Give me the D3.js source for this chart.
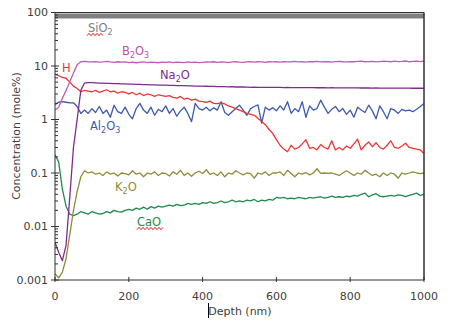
<!DOCTYPE html>
<html><head><meta charset="utf-8">
<script src="https://cdn.jsdelivr.net/npm/d3@7"></script>
<style>body{margin:0;background:#fff}svg{display:block}</style>
</head><body>
<svg id="c" width="451" height="331"></svg>
<script>
const depth = [0,10,20,30,40,50,60,70,80,90,100,110,120,130,140,150,160,170,180,190,200,210,220,230,240,250,260,270,280,290,300,310,320,330,340,350,360,370,380,390,400,410,420,430,440,450,460,470,480,490,500,510,520,530,540,550,560,570,580,590,600,610,620,630,640,650,660,670,680,690,700,710,720,730,740,750,760,770,780,790,800,810,820,830,840,850,860,870,880,890,900,910,920,930,940,950,960,970,980,990,1000];
const depthSiO2 = [0, 250, 500, 750, 1000];
const SiO2 = [86, 86, 86, 86, 86];
const B2O3 = [1.5,1.7,2.5,3.5,5.1,7.4,10.5,12.0,12.2,12.0,
 11.9,12.1,11.8,11.9,12.2,11.9,11.7,12.0,11.8,11.9,
 11.6,11.8,11.5,11.7,11.9,11.6,11.8,11.7,11.5,11.8,
 11.7,11.9,11.6,11.8,11.7,11.6,11.9,11.7,11.8,11.6,
 11.7,11.9,11.8,12.0,11.7,11.9,11.8,11.6,11.9,12.0,
 11.8,11.7,11.9,12.1,11.8,12.0,11.9,11.7,12.0,11.9,
 12.0,11.8,12.1,11.9,12.0,12.2,11.9,12.0,11.8,12.1,
 12.0,12.2,11.9,12.1,12.0,11.8,12.1,12.2,12.0,11.9,
 12.1,12.0,12.2,12.3,12.0,12.1,12.2,11.9,12.1,12.3,
 12.2,12.0,12.3,12.1,12.2,12.4,12.0,12.2,12.3,12.1,12.4];
const Na2O = [0.005,0.0033,0.0023,0.0045,0.035,0.3,1.0,3.5,4.8,4.9,
 4.9,4.85,4.8,4.8,4.75,4.75,4.7,4.7,4.65,4.65,
 4.6,4.6,4.55,4.55,4.5,4.5,4.45,4.45,4.4,4.4,
 4.4,4.35,4.35,4.3,4.3,4.3,4.25,4.25,4.2,4.2,
 4.2,4.18,4.15,4.15,4.12,4.1,4.1,4.08,4.1,4.05,
 4.05,4.05,4.02,4.0,4.02,4.0,3.98,4.0,3.98,3.97,
 3.97,3.98,3.95,3.96,3.95,3.94,3.95,3.93,3.94,3.93,
 3.93,3.92,3.93,3.92,3.91,3.92,3.9,3.91,3.9,3.9,
 3.9,3.89,3.9,3.88,3.89,3.88,3.87,3.88,3.87,3.87,
 3.86,3.87,3.86,3.85,3.86,3.85,3.85,3.84,3.85,3.84,3.84];
const H = [7.0,6.6,6.1,5.9,5.0,4.2,3.8,3.3,3.5,3.4,
 3.3,3.5,3.2,3.4,3.6,3.3,3.4,3.1,3.3,3.2,
 3.0,3.2,2.9,3.1,2.8,3.0,2.9,2.7,2.9,2.8,
 2.7,2.8,2.6,2.5,2.7,2.4,2.5,2.3,2.4,2.2,
 2.15,2.1,2.2,2.0,1.98,2.05,1.95,1.8,1.7,1.6,
 1.5,1.4,1.3,1.25,1.2,1.05,0.92,0.8,0.65,0.55,
 0.42,0.33,0.28,0.25,0.33,0.28,0.3,0.35,0.42,0.29,
 0.3,0.27,0.34,0.3,0.28,0.4,0.27,0.3,0.27,0.32,
 0.29,0.35,0.43,0.27,0.33,0.38,0.31,0.37,0.3,0.28,
 0.33,0.4,0.3,0.29,0.32,0.36,0.3,0.29,0.28,0.27,0.23];
const Al2O3 = [1.9,2.1,2.15,2.1,2.05,2.05,1.75,1.3,1.5,1.3,
 1.6,1.35,1.75,1.3,1.5,1.1,1.85,1.4,1.3,1.7,
 1.25,1.03,1.6,2.0,1.5,1.3,1.7,1.2,1.55,1.4,
 1.8,1.3,1.6,1.15,1.45,1.7,1.3,0.91,2.0,1.6,
 1.5,1.7,1.45,1.65,1.5,2.15,1.35,1.2,1.4,1.6,
 1.85,1.5,1.2,1.6,1.75,1.87,0.86,1.7,1.5,1.65,
 1.45,1.8,1.5,2.15,1.3,1.6,1.4,2.15,1.1,1.8,
 1.5,1.6,2.3,1.7,1.3,1.55,1.75,1.4,1.6,1.25,
 1.5,1.1,1.7,1.5,1.35,1.85,1.45,1.03,1.8,1.4,
 1.03,1.6,1.5,1.3,1.55,1.45,1.5,1.4,1.55,1.75,2.0];
const K2O = [0.0013,0.0011,0.0014,0.0025,0.007,0.02,0.045,0.085,0.11,0.1,
 0.105,0.095,0.1,0.09,0.105,0.095,0.1,0.088,0.1,0.097,
 0.092,0.11,0.095,0.1,0.085,0.1,0.095,0.105,0.09,0.1,
 0.098,0.088,0.105,0.095,0.112,0.09,0.1,0.087,0.1,0.108,
 0.098,0.115,0.094,0.1,0.09,0.105,0.085,0.1,0.095,0.11,
 0.1,0.092,0.1,0.097,0.08,0.1,0.095,0.105,0.09,0.1,
 0.1,0.105,0.09,0.112,0.098,0.085,0.1,0.095,0.102,0.092,
 0.1,0.12,0.098,0.1,0.098,0.1,0.095,0.09,0.1,0.11,
 0.1,0.09,0.1,0.095,0.112,0.1,0.09,0.095,0.085,0.1,
 0.09,0.1,0.095,0.08,0.1,0.095,0.1,0.105,0.1,0.097,0.1];
const CaO = [0.22,0.16,0.05,0.024,0.017,0.016,0.017,0.019,0.018,0.017,
 0.019,0.018,0.017,0.0175,0.019,0.018,0.02,0.019,0.0185,0.02,
 0.021,0.02,0.022,0.021,0.023,0.021,0.0235,0.022,0.024,0.023,
 0.024,0.025,0.024,0.026,0.0245,0.025,0.027,0.026,0.027,0.026,
 0.028,0.027,0.029,0.027,0.028,0.03,0.028,0.029,0.031,0.029,
 0.03,0.029,0.031,0.03,0.032,0.029,0.031,0.03,0.032,0.031,
 0.035,0.034,0.035,0.033,0.034,0.033,0.035,0.034,0.033,0.035,
 0.034,0.035,0.036,0.034,0.035,0.037,0.035,0.036,0.035,0.037,
 0.036,0.038,0.037,0.04,0.042,0.036,0.039,0.041,0.037,0.036,
 0.037,0.038,0.037,0.039,0.038,0.036,0.038,0.04,0.042,0.038,0.04];
const yTicks = [0.001, 0.01, 0.1, 1, 10, 100];
const yTickLabels = ["0.001", "0.01", "0.1", "1", "10", "100"];
const xTicks = [0, 200, 400, 600, 800, 1000];

const W = 451, H0 = 331;
const m = {l: 55, r: 27, t: 12.5, b: 51};
const svg = d3.select("#c");
const x = d3.scaleLinear().domain([0, 1000]).range([m.l, W - m.r]);
const y = d3.scaleLog().domain([0.001, 100]).range([H0 - m.b, m.t]);
const font = "'DejaVu Sans', Verdana, sans-serif";

svg.append("defs").append("clipPath").attr("id", "clip")
  .append("rect").attr("x", m.l).attr("y", m.t).attr("width", x(1000) - m.l).attr("height", y(0.001) - m.t);

const series = [
  {name: "SiO2", xs: depthSiO2, v: SiO2, color: "#808080", w: 5},
  {name: "CaO", xs: depth, v: CaO, color: "#1f8a4c", w: 1.3},
  {name: "K2O", xs: depth, v: K2O, color: "#8c8c3a", w: 1.3},
  {name: "Al2O3", xs: depth, v: Al2O3, color: "#3d5aad", w: 1.3},
  {name: "H", xs: depth, v: H, color: "#f03434", w: 1.3},
  {name: "Na2O", xs: depth, v: Na2O, color: "#7e2c8c", w: 1.3},
  {name: "B2O3", xs: depth, v: B2O3, color: "#c659b5", w: 1.3}
];
const line = d3.line().x(d => x(d[0])).y(d => y(d[1]));
const g = svg.append("g").attr("clip-path", "url(#clip)");
series.forEach(s => {
  g.append("path").datum(s.xs.map((d, i) => [d, s.v[i]]))
    .attr("d", line).attr("fill", "none").attr("stroke", s.color)
    .attr("stroke-width", s.w).attr("stroke-linejoin", "round");
});

// frame
const axc = "#303030";
svg.append("line").attr("x1", m.l).attr("x2", x(1000)).attr("y1", m.t).attr("y2", m.t).attr("stroke", axc);
svg.append("line").attr("x1", x(1000)).attr("x2", x(1000)).attr("y1", m.t).attr("y2", y(0.001)).attr("stroke", axc).attr("stroke-width", 1.5);

// y axis
const yAx = svg.append("g").attr("transform", `translate(${m.l},0)`);
yAx.append("line").attr("x1", 0).attr("x2", 0).attr("y1", m.t).attr("y2", y(0.001)).attr("stroke", axc);
const minor = [];
yTicks.slice(0, -1).forEach(t => { for (let k = 2; k <= 9; k++) minor.push(t * k); });
yAx.selectAll(".mn").data(minor).enter().append("line")
  .attr("x1", 0).attr("x2", 3).attr("y1", d => y(d)).attr("y2", d => y(d)).attr("stroke", axc);
yAx.selectAll(".mj").data(yTicks).enter().append("line")
  .attr("x1", -4).attr("x2", 4).attr("y1", d => y(d)).attr("y2", d => y(d)).attr("stroke", axc);
yAx.selectAll(".lb").data(yTicks).enter().append("text")
  .attr("x", -7).attr("y", d => y(d)).attr("dy", "0.35em").attr("text-anchor", "end")
  .attr("font-family", font).attr("font-size", 11).attr("fill", "#404040")
  .text((d, i) => yTickLabels[i]);

// x axis
const xAx = svg.append("g").attr("transform", `translate(0,${y(0.001)})`);
xAx.append("line").attr("x1", m.l).attr("x2", x(1000)).attr("stroke", axc);
xAx.selectAll(".mj").data(xTicks).enter().append("line")
  .attr("x1", d => x(d)).attr("x2", d => x(d)).attr("y1", -3).attr("y2", 2).attr("stroke", axc);
xAx.selectAll(".lb").data(xTicks).enter().append("text")
  .attr("x", d => x(d)).attr("y", 20).attr("text-anchor", "middle")
  .attr("font-family", font).attr("font-size", 11).attr("fill", "#404040")
  .text(d => d);

// axis titles
svg.append("text").attr("x", 240).attr("y", 315).attr("text-anchor", "middle")
  .attr("font-family", font).attr("font-size", 11).attr("fill", "#404040").text("Depth (nm)");
svg.append("line").attr("x1", 208.5).attr("x2", 208.5).attr("y1", 303).attr("y2", 318).attr("stroke", "#000");
svg.append("text").attr("transform", "translate(20,136) rotate(-90)").attr("text-anchor", "middle")
  .attr("font-family", font).attr("font-size", 11).attr("fill", "#404040").text("Concentration (mole%)");

// series labels
function label(parts, xx, yy, color) {
  const t = svg.append("text").attr("x", xx).attr("y", yy)
    .attr("font-family", font).attr("font-size", 11.5).attr("fill", color);
  parts.forEach(p => {
    if (p[1]) t.append("tspan").attr("font-size", 8).attr("dy", 3).text(p[0]);
    else t.append("tspan").attr("dy", p[2] ? -3 : 0).text(p[0]);
  });
  return t;
}
label([["SiO"], ["2", 1]], 88, 31.5, "#808080");
label([["B"], ["2", 1], ["O", 0, 1], ["3", 1]], 122, 54.5, "#c24fa8");
label([["H"]], 62, 72, "#f03434");
label([["Na"], ["2", 1], ["O", 0, 1]], 160, 79, "#7e2c8c");
label([["Al"], ["2", 1], ["O", 0, 1], ["3", 1]], 90, 130, "#3d5aad");
label([["K"], ["2", 1], ["O", 0, 1]], 115, 191, "#8c8c3a");
label([["CaO"]], 137, 226, "#1f8a4c");

// spell-check squiggles
function squiggle(x0, x1, yy) {
  const pts = [];
  for (let xx = x0, k = 0; xx <= x1; xx += 2, k++) pts.push([xx, yy + (k % 2 ? -1.2 : 1.2)]);
  svg.append("path").attr("d", d3.line()(pts)).attr("fill", "none").attr("stroke", "#e02020").attr("stroke-width", 1);
}
squiggle(87, 103, 34.5);
squiggle(137, 163, 228.5);
</script>
</body></html>
